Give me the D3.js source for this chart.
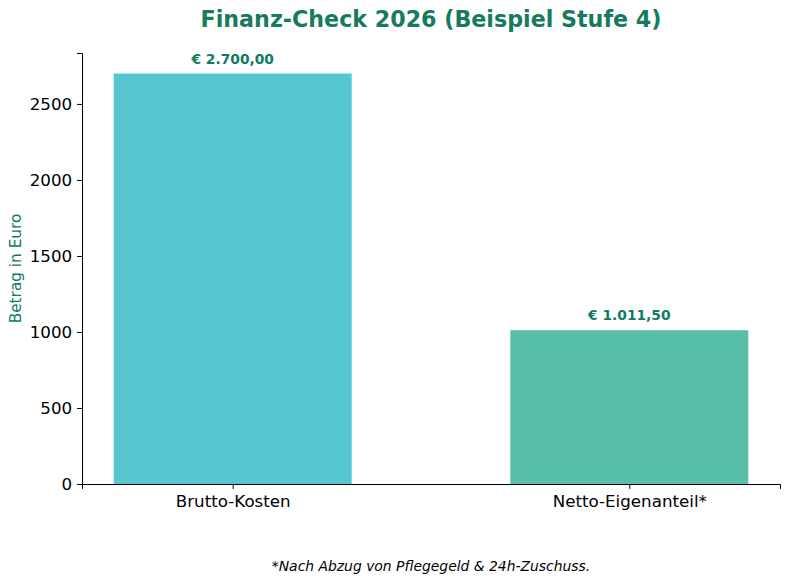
<!DOCTYPE html>
<html lang="de">
<head>
  <meta charset="UTF-8">
  <title>Finanz-Check 2026</title>
  <script src="https://d3js.org/d3.v7.min.js"></script>
  <style>
    body { margin: 0; background: #fff; }
    svg { font-family: "DejaVu Sans", sans-serif; }
    .tick text { font-size: 16.7px; fill: #000; }
  </style>
</head>
<body>
<svg width="790" height="583"></svg>
<script>
  // Daten
  const categories = ["Brutto-Kosten", "Netto-Eigenanteil*"];
  const values = [2700.00, 1011.50];
  const valueLabels = ["€ 2.700,00", "€ 1.011,50"];
  const barColors = ["#56c6d0", "#5abfaa"];
  const yTicks = [0, 500, 1000, 1500, 2000, 2500];

  const margin = {top: 53, right: 10, bottom: 99, left: 82},
        width = 790 - margin.left - margin.right,
        height = 583 - margin.top - margin.bottom;

  const svg = d3.select("svg");
  const g = svg.append("g")
      .attr("transform", `translate(${margin.left},${margin.top})`);

  // Skalen (wie matplotlib: Balkenbreite 0.6, 5% Rand)
  const x = d3.scaleLinear().domain([-0.38, 1.38]).range([0, width]);
  const y = d3.scaleLinear().domain([0, 2700 * 1.05]).range([height, 0]);
  const barW = x(0.6) - x(0);

  // Balken
  g.selectAll(".bar")
      .data(values)
      .enter().append("rect")
      .attr("class", "bar")
      .attr("x", (d, i) => x(i) - barW / 2)
      .attr("y", d => y(d))
      .attr("width", barW)
      .attr("height", d => height - y(d))
      .attr("fill", (d, i) => barColors[i]);

  // Wertbeschriftungen
  g.selectAll(".val")
      .data(values)
      .enter().append("text")
      .attr("x", (d, i) => x(i))
      .attr("y", d => y(d) - 10)
      .attr("text-anchor", "middle")
      .style("font-size", "13.8px")
      .style("font-weight", "bold")
      .style("fill", "#117a65")
      .text((d, i) => valueLabels[i]);

  // Achsen
  const xAxis = g.append("g")
      .attr("transform", `translate(0,${height})`)
      .call(d3.axisBottom(x).tickValues([0, 1]).tickFormat(i => categories[i])
        .tickSizeOuter(0).tickSize(4.9).tickPadding(6.5));
  xAxis.select(".domain").attr("stroke", "#000").attr("stroke-width", 1);

  const yAxis = g.append("g")
      .call(d3.axisLeft(y).tickValues(yTicks).tickFormat(d3.format("d"))
        .tickSizeOuter(0).tickSize(4.9).tickPadding(4.9));
  yAxis.select(".domain").attr("stroke", "#000").attr("stroke-width", 1);
  svg.selectAll(".tick text").attr("font-family", "DejaVu Sans");

  // Titel
  svg.append("text")
      .attr("x", margin.left + width / 2)
      .attr("y", 27)
      .attr("text-anchor", "middle")
      .style("font-size", "22.2px")
      .style("font-weight", "bold")
      .style("fill", "#167a5e")
      .text("Finanz-Check 2026 (Beispiel Stufe 4)");

  // Y-Achsenbeschriftung
  svg.append("text")
      .attr("transform", "rotate(-90)")
      .attr("x", -(margin.top + height / 2))
      .attr("y", 21)
      .attr("text-anchor", "middle")
      .style("font-size", "15.3px")
      .style("fill", "#117a65")
      .text("Betrag in Euro");

  // Fußnote
  svg.append("text")
      .attr("x", 431)
      .attr("y", 571)
      .attr("text-anchor", "middle")
      .style("font-size", "13.9px")
      .style("font-style", "italic")
      .text("*Nach Abzug von Pflegegeld & 24h-Zuschuss.");
</script>
</body>
</html>
